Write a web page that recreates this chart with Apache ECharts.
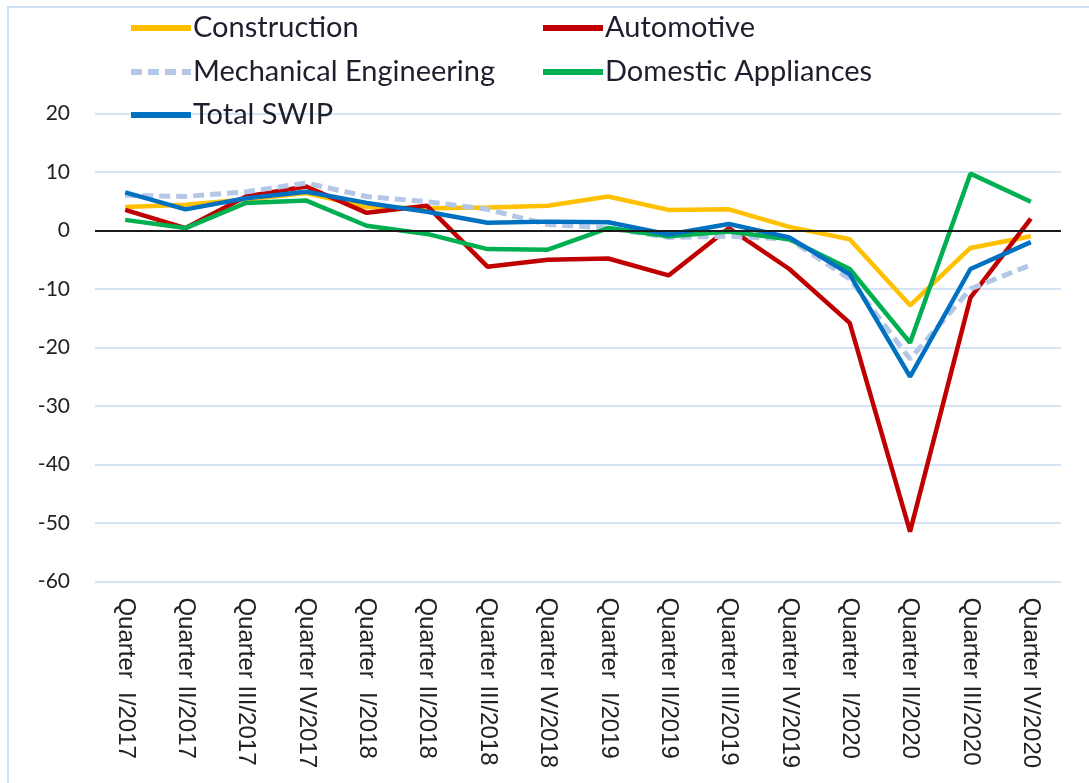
<!DOCTYPE html>
<html>
<head>
<meta charset="utf-8">
<script src="https://cdn.jsdelivr.net/npm/echarts@6/dist/echarts.min.js"></script>
<style>
  html, body { margin: 0; padding: 0; background: #fff; }
  #chart { width: 1089px; height: 783px; }
</style>
</head>
<body>
<div id="chart"></div>
<script>
const categories = [
  'Quarter  I/2017', 'Quarter II/2017', 'Quarter III/2017', 'Quarter IV/2017',
  'Quarter  I/2018', 'Quarter II/2018', 'Quarter III/2018', 'Quarter IV/2018',
  'Quarter  I/2019', 'Quarter II/2019', 'Quarter III/2019', 'Quarter IV/2019',
  'Quarter  I/2020', 'Quarter II/2020', 'Quarter III/2020', 'Quarter IV/2020'
];
const construction = [4.0, 4.4, 5.3, 6.4, 4.0, 3.8, 3.9, 4.2, 5.8, 3.5, 3.6, 0.6, -1.5, -12.8, -3.0, -1.0];
const automotive   = [3.5, 0.4, 5.8, 7.5, 3.0, 4.2, -6.2, -5.0, -4.8, -7.7, 0.4, -6.6, -15.8, -51.5, -11.5, 2.0];
const mechanical   = [6.0, 5.8, 6.6, 8.1, 5.8, 4.9, 3.6, 1.0, 0.4, -1.2, -1.0, -1.5, -8.3, -22.0, -10.0, -5.9];
const domestic     = [1.8, 0.4, 4.7, 5.1, 0.8, -0.6, -3.2, -3.3, 0.4, -1.0, -0.2, -1.5, -6.6, -19.2, 9.7, 4.9];
const totalSWIP    = [6.5, 3.6, 5.5, 6.6, 4.7, 3.2, 1.3, 1.5, 1.4, -0.7, 1.1, -1.2, -7.5, -25.0, -6.6, -2.0];

const yMin = -60, yMax = 20, yStep = 10;

const chart = echarts.init(document.getElementById('chart'), null, { renderer: 'canvas' });

const legendFont = { fontFamily: 'Lato', fontSize: 29, color: '#1e1e2e', lineHeight: 32, padding: [0, 0, 0, -3] };
function mkLegend(name, left, top) {
  return {
    data: [name], left: left, top: top, itemWidth: 60, itemHeight: 14, itemGap: 0,
    textStyle: legendFont, padding: 0,
    lineStyle: { width: 6 },
    itemStyle: { opacity: 0, color: 'rgba(0,0,0,0)', borderWidth: 0 }
  };
}

function mkSeries(name, data, color, extra) {
  return Object.assign({
    name: name, type: 'line', data: data, symbol: 'none', smooth: false,
    lineStyle: { color: color, width: 4.5 }, itemStyle: { color: color },
    animation: false
  }, extra || {});
}

chart.setOption({
  animation: false,
  backgroundColor: '#ffffff',
  graphic: [{
    type: 'rect', silent: true, z: -10,
    shape: { x: 8, y: 7, width: 1300, height: 1000 },
    style: { fill: 'none', stroke: '#CFE0F3', lineWidth: 2 }
  }],
  legend: [
    mkLegend('Construction', 128, 12),
    mkLegend('Automotive', 540, 12),
    mkLegend('Mechanical Engineering', 128, 56),
    mkLegend('Domestic Appliances', 540, 56),
    mkLegend('Total SWIP', 128, 99)
  ],
  grid: { left: 95, right: 28, top: 113.4, bottom: 201.6, containLabel: false },
  xAxis: {
    type: 'category', data: categories, boundaryGap: true,
    axisLine: { show: false, onZero: false }, axisTick: { show: false },
    splitLine: { show: false },
    axisLabel: {
      interval: 0, rotate: -90, margin: 16,
      fontFamily: 'Liberation Sans', fontSize: 24, color: '#222'
    }
  },
  yAxis: {
    type: 'value', min: yMin, max: yMax, interval: yStep,
    axisLine: { show: false }, axisTick: { show: false },
    splitLine: { show: true, lineStyle: { color: '#D3E4F5', width: 2 } },
    axisLabel: { margin: 25, fontFamily: 'Lato', fontSize: 21, color: '#222' }
  },
  series: [
    mkSeries('Construction', construction, '#FFC000', {
      markLine: {
        silent: true, symbol: 'none', animation: false,
        label: { show: false },
        lineStyle: { color: '#1a1a1a', width: 2, type: 'solid' },
        data: [{ yAxis: 0 }]
      }
    }),
    mkSeries('Automotive', automotive, '#C00000'),
    mkSeries('Mechanical Engineering', mechanical, '#B4C7E7', {
      lineStyle: { color: '#B4C7E7', width: 5, type: [11, 6] }
    }),
    mkSeries('Domestic Appliances', domestic, '#00B050'),
    mkSeries('Total SWIP', totalSWIP, '#0070C0')
  ]
});
</script>
</body>
</html>
